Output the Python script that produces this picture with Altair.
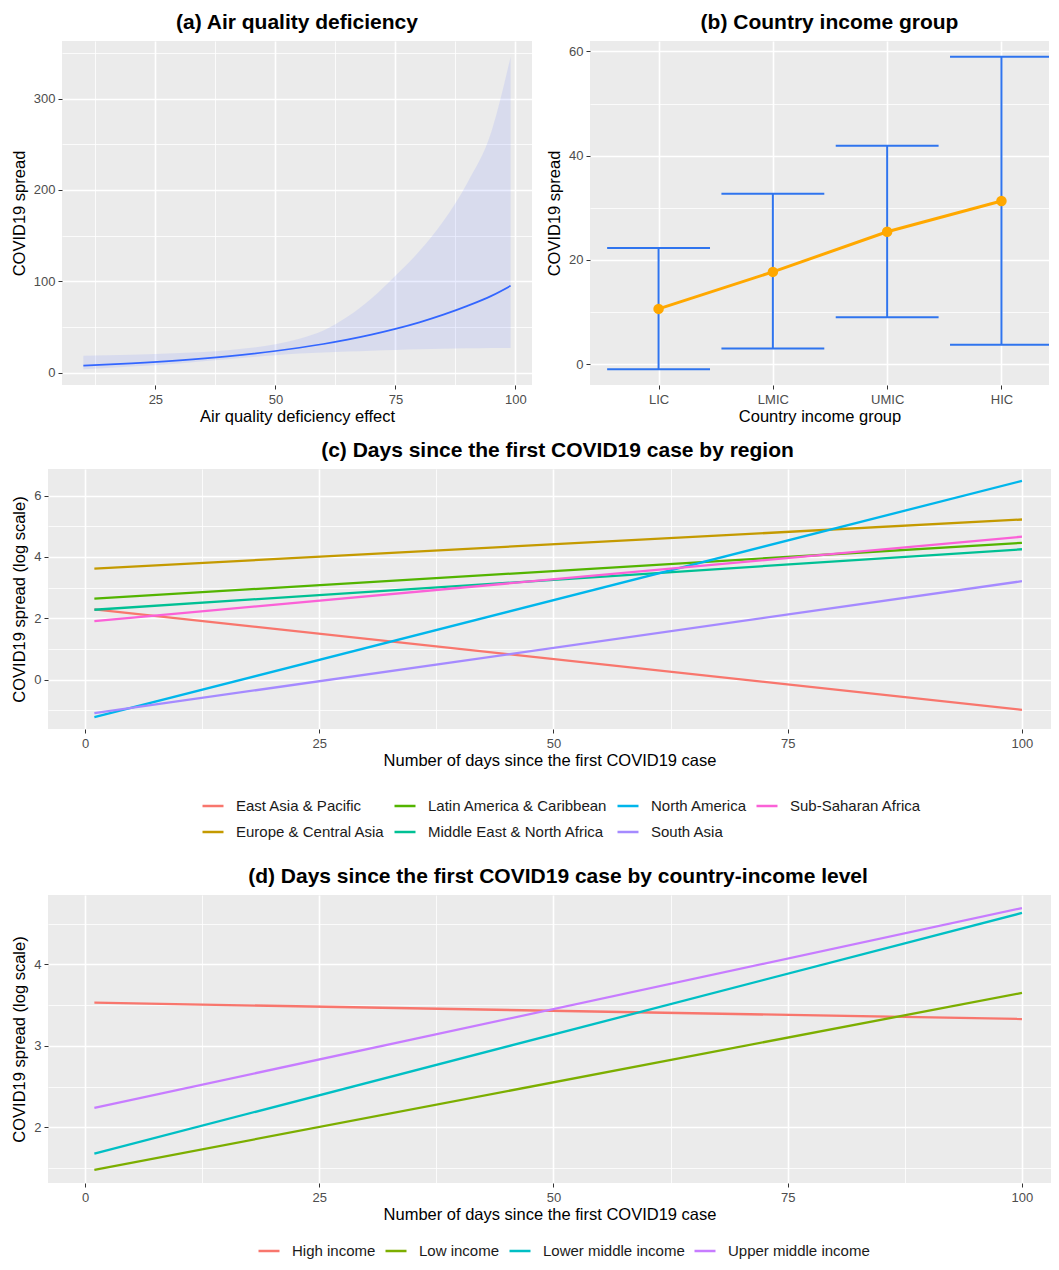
import altair as alt
import pandas as pd

FONT = "Liberation Sans"
BG = "#EBEBEB"

# ---------------- (a) Air quality deficiency ----------------
aq_x = [10, 20, 30, 40, 50, 55, 60, 65, 70, 75, 80, 85, 90, 95, 99]
aq_fit = [7.6, 10.1, 13.4, 17.8, 23.6, 27.2, 31.3, 36.0, 41.5, 47.8, 55.0, 63.4, 73.0, 84.0, 95.0]
aq_lo = [3.5, 6.5, 10.0, 14.5, 19.0, 20.8, 22.0, 23.1, 24.0, 24.8, 25.5, 26.0, 26.5, 27.0, 27.0]
aq_hi = [18.5, 19.5, 21.5, 24.5, 31.0, 37.0, 46.0, 61.0, 81.0, 106.0, 133.0, 166.0, 208.0, 264.0, 346.0]

# ---------------- (b) Country income group ----------------
inc_groups = ["LIC", "LMIC", "UMIC", "HIC"]
inc_mean = [10.6, 17.7, 25.4, 31.3]
inc_lo = [-1.0, 3.0, 9.0, 3.7]
inc_hi = [22.3, 32.7, 41.9, 59.0]

# ---------------- (c) by region ----------------
days = [1, 100]
regions = ["East Asia & Pacific", "Europe & Central Asia", "Latin America & Caribbean",
           "Middle East & North Africa", "North America", "South Asia", "Sub-Saharan Africa"]
reg_start = [2.29, 3.62, 2.64, 2.28, -1.22, -1.09, 1.91]
reg_end = [-0.98, 5.22, 4.46, 4.25, 6.48, 3.21, 4.66]
reg_colors = ["#F8766D", "#C49A00", "#53B400", "#00C094", "#00B6EB", "#A58AFF", "#FB61D7"]

# ---------------- (d) by country-income level ----------------
levels = ["High income", "Low income", "Lower middle income", "Upper middle income"]
lvl_start = [3.53, 1.48, 1.68, 2.24]
lvl_end = [3.33, 3.65, 4.63, 4.69]
lvl_colors = ["#F8766D", "#7CAE00", "#00BFC4", "#C77CFF"]


def expand(lo, hi, f=0.05):
    r = hi - lo
    return [lo - f * r, hi + f * r]


def axis_q(major, minor, title, **kw):
    vals = [float(v) for v in sorted(list(major) + list(minor))]
    if not minor:
        return alt.Axis(values=vals, title=title, format="d", **kw)
    test = "indexof([%s], datum.value) >= 0" % ",".join(repr(float(v)) for v in minor)
    return alt.Axis(
        values=vals, title=title,
        labelExpr="(%s) ? '' : format(datum.value, 'd')" % test,
        gridWidth={"condition": {"test": test, "value": 0.8}, "value": 1.6},
        tickOpacity={"condition": {"test": test, "value": 0}, "value": 1},
        **kw,
    )


def ttl(text, dx=0):
    return alt.TitleParams(text=text, fontSize=21, fontWeight="bold", color="black",
                           anchor="middle", offset=8, dx=dx, font=FONT)


view_bg = alt.ViewBackground(fill=BG, strokeWidth=0)
leg_common = dict(title=None, orient="none", direction="horizontal", symbolType="stroke",
                  symbolSize=441, symbolStrokeWidth=2.5, labelFontSize=15, labelOffset=11,
                  columnPadding=4, labelLimit=400, labelColor="#1A1A1A", labelFont=FONT,
                  padding=0)

# ---- chart (a)
df_a = pd.DataFrame({"x": aq_x, "fit": aq_fit, "lo": aq_lo, "hi": aq_hi})
xa = alt.X("x:Q", scale=alt.Scale(domain=expand(min(aq_x), max(aq_x)), nice=False, zero=False),
           axis=axis_q([25, 50, 75, 100], [12.5, 37.5, 62.5, 87.5], "Air quality deficiency effect"))
ya = alt.Y("lo:Q", scale=alt.Scale(domain=expand(min(aq_lo), max(aq_hi)), nice=False, zero=False),
           axis=axis_q([0, 100, 200, 300], [50, 150, 250, 350], "COVID19 spread"))
band = alt.Chart(df_a).mark_area(color="#6A7FFF", opacity=0.14, interpolate="monotone").encode(
    x=xa, y=ya, y2="hi:Q")
fit_line = alt.Chart(df_a).mark_line(color="#3366FF", strokeWidth=1.7, interpolate="monotone").encode(
    x="x:Q", y="fit:Q")
chart_a = alt.layer(band, fit_line).properties(
    width=470, height=344, title=ttl("(a) Air quality deficiency"), view=view_bg)

# ---- chart (b)
df_b = pd.DataFrame({"idx": list(range(1, len(inc_groups) + 1)), "grp": inc_groups,
                     "mean": inc_mean, "lo": inc_lo, "hi": inc_hi})
lab_expr = "[%s][datum.value - 1]" % ",".join("'%s'" % g for g in inc_groups)
xb = alt.X("idx:Q", scale=alt.Scale(domain=[0.4, 4.416], nice=False, zero=False),
           axis=alt.Axis(values=list(range(1, len(inc_groups) + 1)), labelExpr=lab_expr,
                         title="Country income group"))
yb = alt.Y("hi:Q", scale=alt.Scale(domain=expand(min(inc_lo), max(inc_hi)), nice=False, zero=False),
           axis=axis_q([0, 20, 40, 60], [10, 30, 50], "COVID19 spread"))
EB = "#2F74EE"
OR = "#FFA800"
base_b = alt.Chart(df_b)
stems = base_b.mark_rule(color=EB, strokeWidth=2).encode(x=xb, y=yb, y2="lo:Q")
caps = base_b.transform_calculate(xl="datum.idx - 0.45", xr="datum.idx + 0.45")
cap_top = caps.mark_rule(color=EB, strokeWidth=2, clip=True).encode(x="xl:Q", x2="xr:Q", y="hi:Q")
cap_bot = caps.mark_rule(color=EB, strokeWidth=2, clip=True).encode(x="xl:Q", x2="xr:Q", y="lo:Q")
mean_line = base_b.mark_line(color=OR, strokeWidth=3).encode(x="idx:Q", y="mean:Q")
mean_pts = base_b.mark_point(filled=True, size=110, color=OR, opacity=1).encode(x="idx:Q", y="mean:Q")
chart_b = alt.layer(stems, cap_top, cap_bot, mean_line, mean_pts).properties(
    width=459, height=344, title=ttl("(b) Country income group", dx=10), view=view_bg)

# ---- chart (c)
rows_c = []
for name, s, e in zip(regions, reg_start, reg_end):
    rows_c.append({"region": name, "day": days[0], "val": s})
    rows_c.append({"region": name, "day": days[1], "val": e})
df_c = pd.DataFrame(rows_c)
order_c = [0, 2, 4, 6, 1, 3, 5]  # column-major legend like ggplot (2 rows)
dom_c = [regions[i] for i in order_c]
rng_c = [reg_colors[i] for i in order_c]
x_dom = [expand(1, 100)[0], 103.1]
x_axis_days = axis_q([0, 25, 50, 75, 100], [12.5, 37.5, 62.5, 87.5],
                     "Number of days since the first COVID19 case")
chart_c = alt.Chart(df_c).mark_line(strokeWidth=2.3).encode(
    x=alt.X("day:Q", scale=alt.Scale(domain=x_dom, nice=False, zero=False), axis=x_axis_days),
    y=alt.Y("val:Q", scale=alt.Scale(domain=expand(min(reg_start + reg_end), max(reg_start + reg_end)),
                                     nice=False, zero=False),
            axis=axis_q([0, 2, 4, 6], [-1, 1, 3, 5], "COVID19 spread (log scale)")),
    color=alt.Color("region:N", scale=alt.Scale(domain=dom_c, range=rng_c),
                    legend=alt.Legend(legendX=191, legendY=325, columns=4, rowPadding=6,
                                      **leg_common)),
).properties(width=1003, height=260,
             title=ttl("(c) Days since the first COVID19 case by region", dx=8), view=view_bg)

# ---- chart (d)
rows_d = []
for name, s, e in zip(levels, lvl_start, lvl_end):
    rows_d.append({"level": name, "day": days[0], "val": s})
    rows_d.append({"level": name, "day": days[1], "val": e})
df_d = pd.DataFrame(rows_d)
chart_d = alt.Chart(df_d).mark_line(strokeWidth=2.3).encode(
    x=alt.X("day:Q", scale=alt.Scale(domain=x_dom, nice=False, zero=False), axis=x_axis_days),
    y=alt.Y("val:Q", scale=alt.Scale(domain=expand(min(lvl_start + lvl_end), max(lvl_start + lvl_end)),
                                     nice=False, zero=False),
            axis=axis_q([2, 3, 4], [1.5, 2.5, 3.5, 4.5], "COVID19 spread (log scale)")),
    color=alt.Color("level:N", scale=alt.Scale(domain=levels, range=lvl_colors),
                    legend=alt.Legend(legendX=247, legendY=344, **leg_common)),
).properties(width=1003, height=288,
             title=ttl("(d) Days since the first COVID19 case by country-income level", dx=8.5),
             view=view_bg)

# ---- layout: a 1px spacer first in each row so rows align by their left bounds (like ggplot)
spacer = alt.Chart(pd.DataFrame({"s": []})).mark_point(opacity=0).properties(width=1, height=1)
row1 = alt.hconcat(spacer, alt.hconcat(chart_a, chart_b, spacing=14), spacing=0)
row2 = alt.hconcat(spacer, chart_c, spacing=0)
row3 = alt.hconcat(spacer, chart_d, spacing=0)
lower = alt.vconcat(row2, row3, spacing=26).resolve_scale(color="independent")

chart = alt.vconcat(row1, lower, spacing=15).resolve_scale(color="independent").properties(
    padding={"left": 2, "top": 4, "right": 0, "bottom": 0}
).configure(font=FONT).configure_view(strokeWidth=0).configure_axis(
    domain=False, tickColor="#333333", tickSize=4, tickWidth=1, labelColor="#4D4D4D",
    labelFontSize=13, labelPadding=3, labelFont=FONT, titleFont=FONT, titleFontSize=16.5,
    titleFontWeight="normal", titleColor="black", gridColor="white", gridWidth=1.6,
).configure_axisX(titlePadding=2.5, labelPadding=4).configure_axisY(titlePadding=6)

chart.save("out.html", embed_options={"renderer": "svg", "actions": False})
